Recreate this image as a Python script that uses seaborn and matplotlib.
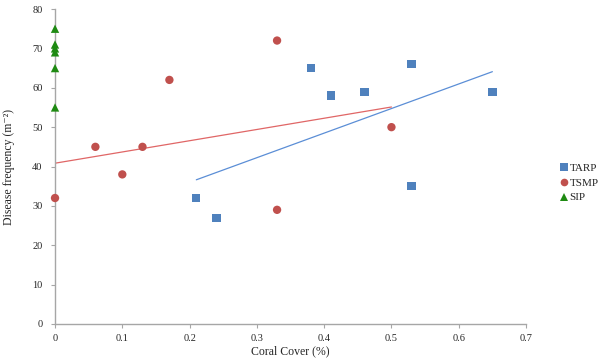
import matplotlib
matplotlib.use('Agg')
import matplotlib.pyplot as plt
import seaborn as sns
import pandas as pd

# Data
groups = ['TARP', 'TSMP', 'SIP']

tarp_cover = [0.21, 0.24, 0.38, 0.41, 0.46, 0.53, 0.53, 0.65]
tarp_freq = [32, 27, 65, 58, 59, 66, 35, 59]

tsmp_cover = [0.0, 0.06, 0.10, 0.13, 0.17, 0.33, 0.33, 0.50]
tsmp_freq = [32, 45, 38, 45, 62, 72, 29, 50]

sip_cover = [0, 0, 0, 0, 0, 0]
sip_freq = [75, 71, 70, 69, 65, 55]

colors = {'TARP': '#4F81BD', 'TSMP': '#C0504D', 'SIP': '#1E8A12'}
markers = {'TARP': 's', 'TSMP': 'o', 'SIP': '^'}
line_colors = {'TARP': '#5B8ED6', 'TSMP': '#E06666'}

df = pd.concat([
    pd.DataFrame({'cover': tarp_cover, 'freq': tarp_freq, 'site': 'TARP'}),
    pd.DataFrame({'cover': tsmp_cover, 'freq': tsmp_freq, 'site': 'TSMP'}),
    pd.DataFrame({'cover': sip_cover, 'freq': sip_freq, 'site': 'SIP'}),
], ignore_index=True)

sns.set_style('white')
plt.rcParams['font.family'] = ['Liberation Serif', 'DejaVu Serif']

fig = plt.figure(figsize=(6, 3.62), dpi=100)
ax = fig.add_axes([0.0917, 0.105, 0.785, 0.870])

# linear trend lines (TARP and TSMP only)
for site in ['TARP', 'TSMP']:
    sub = df[df.site == site]
    sns.regplot(data=sub, x='cover', y='freq', scatter=False, ci=None,
                truncate=True, ax=ax,
                line_kws={'color': line_colors[site], 'lw': 0.9})

sns.scatterplot(data=df, x='cover', y='freq', hue='site', style='site',
                hue_order=groups, style_order=groups, palette=colors,
                markers=markers, s=36, edgecolor='none', ax=ax,
                legend=False, zorder=3, clip_on=False)

ax.set_xlim(0, 0.7)
ax.set_ylim(0, 80)
ax.set_xticks([0, 0.1, 0.2, 0.3, 0.4, 0.5, 0.6, 0.7])
ax.set_xticklabels(['0', '0.1', '0.2', '0.3', '0.4', '0.5', '0.6', '0.7'])
ax.set_yticks(range(0, 81, 10))
ax.set_xlabel('Coral Cover (%)', fontsize=8.5, labelpad=2)
ax.set_ylabel('Disease frequency (m⁻²)', fontsize=8.5, labelpad=12)
ax.tick_params(axis='both', labelsize=7.5, length=3, width=0.8,
               color='#a6a6a6', direction='out', pad=4)
ax.tick_params(axis='y', pad=6)
ax.tick_params(axis='both', bottom=True, left=True)
for side in ['top', 'right']:
    ax.spines[side].set_visible(False)
for side in ['left', 'bottom']:
    ax.spines[side].set_color('#a6a6a6')
    ax.spines[side].set_linewidth(1.0)

handles = [plt.Line2D([], [], ls='none', marker=markers[g], color=colors[g],
                      markersize=5.5, markeredgewidth=0) for g in groups]
fig.legend(handles, groups, loc='center left', bbox_to_anchor=(0.925, 0.495),
           frameon=False, fontsize=8, handlelength=0.6, handletextpad=0.2,
           labelspacing=0.45, borderpad=0)

plt.savefig('out.png', dpi=100)
